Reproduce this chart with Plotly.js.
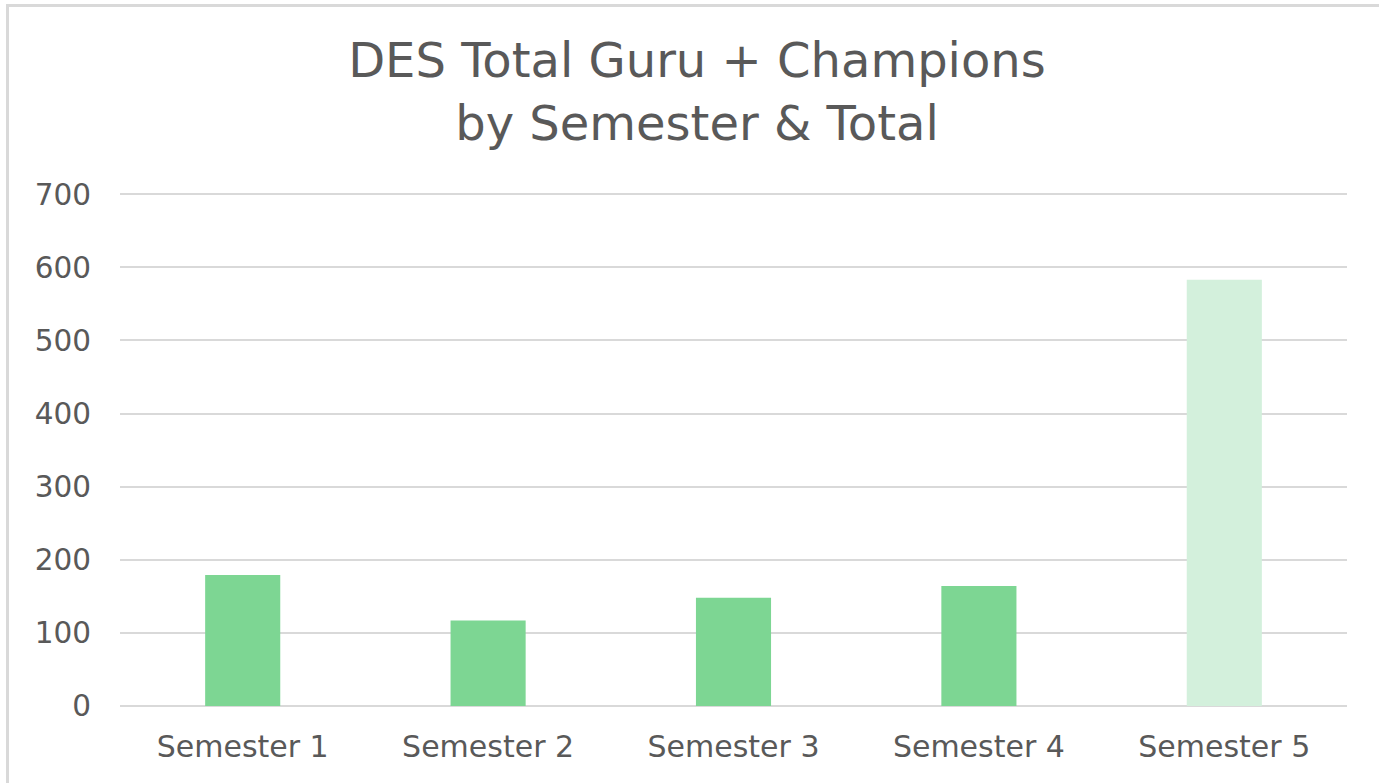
<!DOCTYPE html>
<html>
<head>
<meta charset="utf-8">
<script src="https://cdn.plot.ly/plotly-3.0.1.min.js"></script>
<style>
  html, body { margin: 0; padding: 0; background: #ffffff; }
  #wrap { position: relative; width: 1379px; height: 783px; overflow: hidden; }
  #chart { position: absolute; left: 0; top: 0; width: 1379px; height: 783px; }
  #bt { position: absolute; left: 6px; top: 4px; width: 1373px; height: 3px; background: #d9d9d9; }
  #bl { position: absolute; left: 6px; top: 4px; width: 3px; height: 779px; background: #d9d9d9; }
</style>
</head>
<body>
<div id="wrap">
  <div id="chart"></div>
  <div id="bt"></div>
  <div id="bl"></div>
</div>
<script>
const categories = ["Semester 1", "Semester 2", "Semester 3", "Semester 4", "Semester 5"];
const values = [179, 117, 148, 164, 583];
const barColors = ["#7dd693", "#7dd693", "#7dd693", "#7dd693", "#d3f0dc"];
const yTickValues = [0, 100, 200, 300, 400, 500, 600, 700];
const titleText = "DES Total Guru + Champions<br>by Semester &amp; Total";

const font = "DejaVu Sans, Arial, sans-serif";
const textColor = "#595959";

const trace = {
  type: "bar",
  x: categories,
  y: values,
  marker: { color: barColors, line: { width: 0 } },
  hoverinfo: "x+y"
};

const layout = {
  width: 1379,
  height: 783,
  paper_bgcolor: "rgba(0,0,0,0)",
  plot_bgcolor: "#ffffff",
  margin: { l: 120, r: 32, t: 192, b: 77, pad: 0 },
  showlegend: false,
  bargap: 0.694,
  title: {
    text: titleText,
    font: { family: font, size: 48, color: textColor },
    x: 0.5054,
    xref: "container",
    xanchor: "center",
    y: 0.9014,
    yref: "container",
    yanchor: "top"
  },
  xaxis: {
    type: "category",
    showgrid: false,
    showline: false,
    zeroline: false,
    ticks: "",
    ticklabelstandoff: 20,
    tickfont: { family: font, size: 30, color: textColor }
  },
  yaxis: {
    range: [0, 703],
    tickvals: yTickValues,
    ticktext: yTickValues.map(String),
    showgrid: true,
    gridcolor: "#d9d9d9",
    gridwidth: 2,
    zeroline: true,
    zerolinecolor: "#d9d9d9",
    zerolinewidth: 2,
    showline: false,
    ticks: "",
    ticklabelstandoff: 28,
    tickfont: { family: font, size: 29.5, color: textColor }
  }
};

Plotly.newPlot("chart", [trace], layout, { displayModeBar: false, staticPlot: true });
</script>
</body>
</html>
